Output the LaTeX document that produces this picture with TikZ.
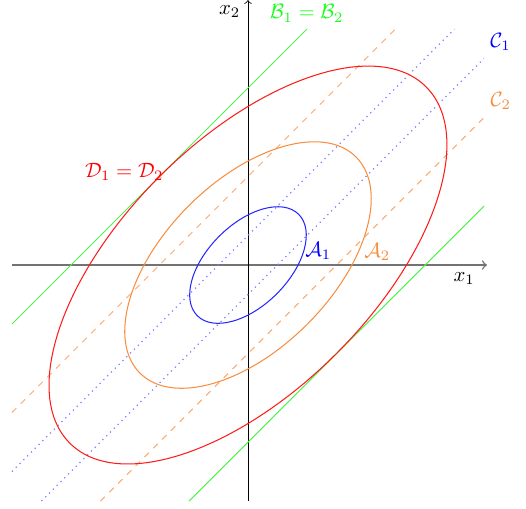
\documentclass[tikz,border=0pt]{standalone}
\usepackage{amsmath}
\definecolor{myorange}{RGB}{248,140,60}
\definecolor{mygreen}{RGB}{80,240,80}
\begin{document}
\begin{tikzpicture}[x=1cm,y=1cm,
  lvlB/.style={mygreen, line width=0.5pt},
  lvlC1/.style={blue!50, dotted, line width=0.6pt},
  lvlC2/.style={myorange!75, dashed, line width=0.5pt},
  lbl/.style={inner sep=0pt, anchor=center}]
\useasboundingbox (-4.203,-4.119) rectangle (4.712,4.492);
% axes
\draw[black!55, line width=0.7pt, ->] (-4,0) -- (4.05,0);
\draw[black, line width=0.4pt, ->] (0,-4) -- (0,4.49);
% lines
\draw[lvlB] (-4,-1) -- (1,4);
\draw[lvlB] (-1,-4) -- (4,1);
\draw[lvlC2] (-4,-2.5) -- (2.5,4);
\draw[lvlC2] (-2.5,-4) -- (4,2.5);
\draw[lvlC1] (-4,-3.5) -- (3.5,4);
\draw[lvlC1] (-3.5,-4) -- (4,3.5);
% ellipses
\draw[red!90, line width=0.5pt, rotate=45] (0,0) ellipse (4.27 and 2.121);
\draw[myorange, line width=0.5pt, rotate=45] (0,0) ellipse (2.59 and 1.42);
\draw[blue!85, line width=0.5pt, rotate=45] (0,0) ellipse (1.215 and 0.69);
% labels
\node[lbl] (lx2) at (-0.31,4.293) {$x_2$};
\node[lbl] (lx1) at (3.664,-0.226) {$x_1$};
\node[lbl, green!90] (lB) at (0.994,4.265) {$\mathcal{B}_1 = \mathcal{B}_2$};
\node[lbl, blue] (lC1) at (4.28,3.785) {$\mathcal{C}_1$};
\node[lbl, myorange] (lC2) at (4.285,2.783) {$\mathcal{C}_2$};
\node[lbl, red] (lD) at (-2.098,1.581) {$\mathcal{D}_1 = \mathcal{D}_2$};
\node[lbl, blue] (lA1) at (1.192,0.24) {$\mathcal{A}_1$};
\node[lbl, myorange] (lA2) at (2.19,0.225) {$\mathcal{A}_2$};
\end{tikzpicture}
\end{document}
